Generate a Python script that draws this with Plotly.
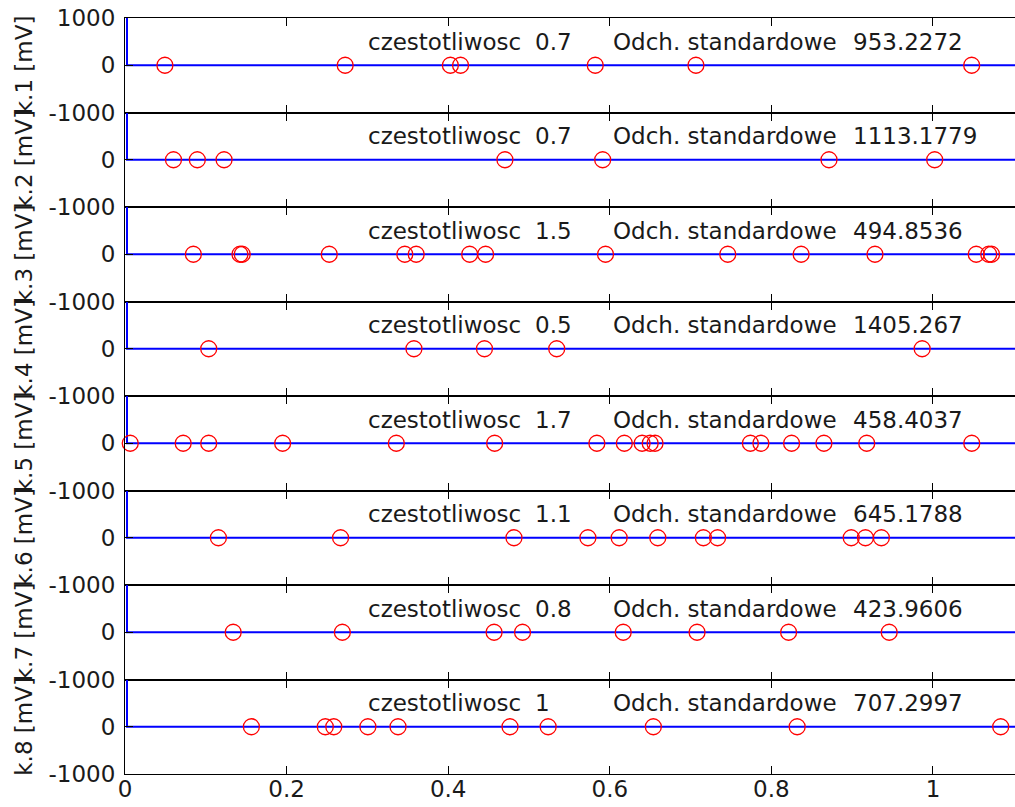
import plotly.graph_objects as go

# ---------------- data ----------------
channel_names = ["k.1", "k.2", "k.3", "k.4", "k.5", "k.6", "k.7", "k.8"]
freqs = [0.7, 0.7, 1.5, 0.5, 1.7, 1.1, 0.8, 1]
std_devs = [953.2272, 1113.1779, 494.8536, 1405.267, 458.4037, 645.1788, 423.9606, 707.2997]

# red circle (event) times on each channel [s]
k1_t = [0.0494, 0.2725, 0.4027, 0.4153, 0.582, 0.7066, 1.0479]
k2_t = [0.060, 0.0895, 0.1226, 0.4702, 0.5912, 0.8713, 1.0021]
k3_t = [0.0846, 0.1423, 0.1451, 0.2528, 0.3463, 0.3604, 0.4266, 0.4463, 0.5947,
        0.7460, 0.8368, 0.9282, 1.0535, 1.0690, 1.0725]
k4_t = [0.1036, 0.3576, 0.4449, 0.5343, 0.9866]
k5_t = [0.0065, 0.0720, 0.1036, 0.1951, 0.3358, 0.4575, 0.584, 0.618, 0.640, 0.650,
        0.656, 0.774, 0.787, 0.825, 0.865, 0.918, 1.048]
k6_t = [0.1156, 0.2668, 0.4814, 0.5729, 0.6116, 0.6594, 0.7158, 0.7334, 0.8988,
        0.9164, 0.9361]
k7_t = [0.1339, 0.2690, 0.4568, 0.4920, 0.6166, 0.7080, 0.8213, 0.9458]
k8_t = [0.1564, 0.2479, 0.2584, 0.3006, 0.3379, 0.4765, 0.5237, 0.6539, 0.8319, 1.0838]
event_times = [k1_t, k2_t, k3_t, k4_t, k5_t, k6_t, k7_t, k8_t]

# signal trace (identical on every channel): spike at start then flat zero
signal_t = [0.0025, 0.0025, 1.1015]
signal_v = [1000, 0, 0]

x_ticks = [0, 0.2, 0.4, 0.6, 0.8, 1]
x_tick_text = ["0", "0.2", "0.4", "0.6", "0.8", "1"]

# ---------------- layout constants ----------------
W, H = 1015, 807
ML, MR, MT, MB = 125, 0, 18, 33
N = len(channel_names)
FONT = "DejaVu Sans"
FS = 23
TXT = "#1a1a1a"

fig = go.Figure()
layout = dict(
    width=W, height=H,
    margin=dict(l=ML, r=MR, t=MT, b=MB, pad=0),
    paper_bgcolor="white", plot_bgcolor="white",
    showlegend=False,
    font=dict(family=FONT, size=FS, color=TXT),
)
annotations = []
plot_w = W - ML - MR

for i in range(N):
    k = i + 1
    xa = "x" if k == 1 else f"x{k}"
    ya = "y" if k == 1 else f"y{k}"
    # blue signal
    fig.add_trace(go.Scatter(
        x=signal_t, y=signal_v, mode="lines", xaxis=xa, yaxis=ya,
        line=dict(color="#0000ff", width=2), hoverinfo="skip"))
    # red circles at zero level
    fig.add_trace(go.Scatter(
        x=event_times[i], y=[0] * len(event_times[i]), mode="markers",
        xaxis=xa, yaxis=ya,
        marker=dict(symbol="circle-open", size=16, color="#ff0000",
                    line=dict(width=1.3, color="#ff0000")),
        cliponaxis=False, hoverinfo="skip"))

    top = 1 - i / N
    bot = 1 - (i + 1) / N
    last = (k == N)
    layout["xaxis" if k == 1 else f"xaxis{k}"] = dict(
        domain=[0, 1], anchor=ya, range=[0, 1.1015],
        showline=True, linecolor="black", linewidth=1, mirror="ticks",
        ticks="inside", ticklen=8, tickwidth=1, tickcolor="black",
        tickvals=x_ticks, ticktext=x_tick_text, showticklabels=last,
        showgrid=False, zeroline=False,
        tickfont=dict(family=FONT, size=FS, color=TXT),
        ticklabelstandoff=-6,
        matches=None if k == 1 else "x",
    )
    yvals = [-1000, 0, 1000] if k == 1 else [-1000, 0]
    layout["yaxis" if k == 1 else f"yaxis{k}"] = dict(
        domain=[bot, top], anchor=xa, range=[-1000, 1000],
        showline=True, linecolor="black", linewidth=1, mirror=False,
        ticks="inside", ticklen=8, tickwidth=1, tickcolor="black",
        tickvals=yvals, ticktext=[str(v) for v in yvals],
        showgrid=False, zeroline=False,
        tickfont=dict(family=FONT, size=FS, color=TXT),
        ticklabelstandoff=4,
    )

    # text labels inside each panel
    label_y = 500
    for x, txt in [(0.3, "czestotliwosc"), (0.506, f"{freqs[i]:g}"),
                   (0.603, "Odch. standardowe"), (0.9, str(std_devs[i]))]:
        annotations.append(dict(
            x=x, y=label_y, xref=xa, yref=ya, text=txt, showarrow=False,
            xanchor="left", yanchor="middle", borderpad=0,
            font=dict(family=FONT, size=FS, color=TXT)))

    # rotated y-axis title
    annotations.append(dict(
        x=(24 - ML) / plot_w, xref="paper",
        y=0.5, yref=f"{ya} domain",
        text=f"{channel_names[i]} [mV]", textangle=-90, showarrow=False,
        xanchor="center", yanchor="middle", borderpad=0,
        font=dict(family=FONT, size=FS, color=TXT)))

layout["annotations"] = annotations
fig.update_layout(**layout)
fig.write_html("out.html")
